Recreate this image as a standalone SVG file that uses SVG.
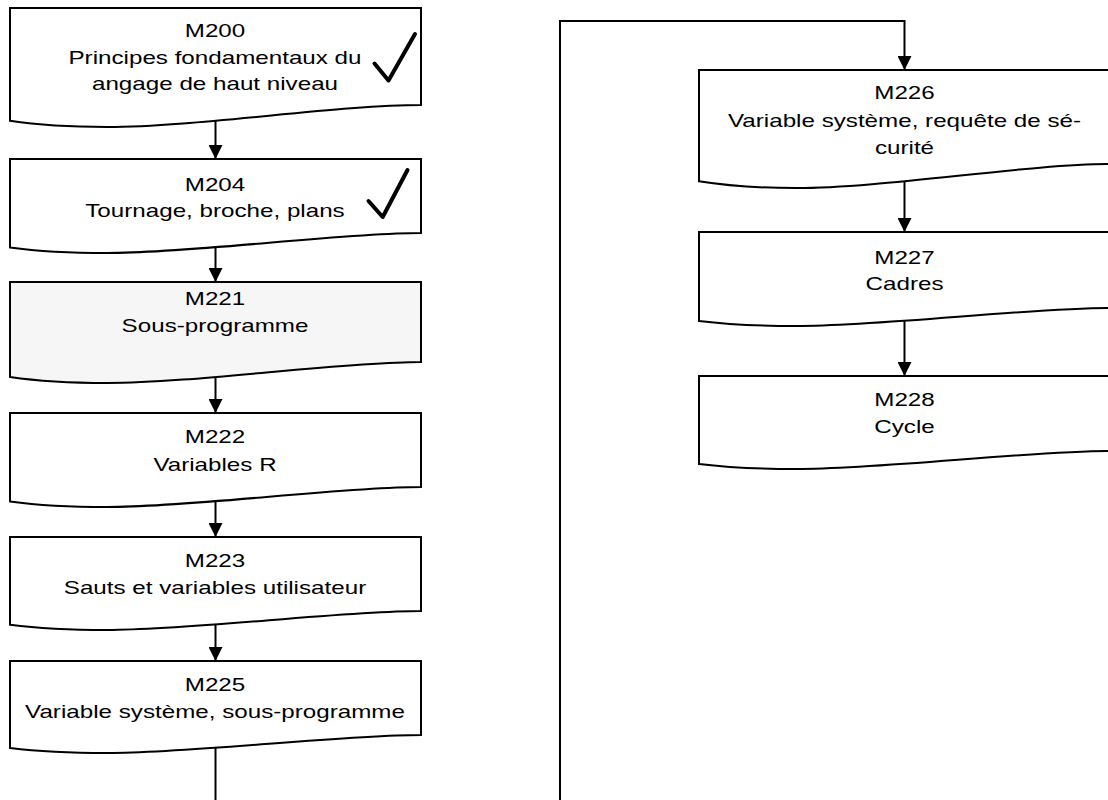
<svg xmlns="http://www.w3.org/2000/svg" width="1108" height="800" viewBox="0 0 1108 800">
  <style>
    .box { fill: #ffffff; stroke: #000000; stroke-width: 2; stroke-linejoin: miter; }
    .box.current { fill: #f6f6f6; }
    .lbl { font-family: "Liberation Sans", Arial, sans-serif; font-size: 19.2px; fill: #000000; text-anchor: middle; }
    .done { fill: none; stroke: #000000; stroke-width: 4; stroke-linecap: round; stroke-linejoin: round; }
    .link { fill: none; stroke: #000000; stroke-width: 2; }
  </style>
  <defs>
    <marker id="arrow" markerUnits="userSpaceOnUse" markerWidth="14" markerHeight="14" refX="14" refY="7" orient="auto">
      <path d="M0,0 L14,7 L0,14 Z" fill="#000000"/>
    </marker>
  </defs>
  <rect width="1108" height="800" fill="#ffffff"/>

  <!-- left column: document shapes, x 10..421, centre 215.5 -->
  <g id="m200">
    <path class="box" d="M10,8 H421 V105 C338.8,105 195,127 107,127 Q51,127 10,120.8 Z"/>
    <g transform="translate(215,0) scale(1.26,1)">
      <text class="lbl" x="0" y="37.5">M200</text>
      <text class="lbl" x="0" y="64">Principes fondamentaux du</text>
      <text class="lbl" x="0" y="90.5">angage de haut niveau</text>
    </g>
    <polyline class="done" points="374.5,63.5 388.5,80.5 415,34"/>
  </g>

  <g id="m204">
    <path class="box" d="M10,159 H421 V233 C338.8,233 195,253 107,253 Q51,253 10,247.4 Z"/>
    <g transform="translate(215,0) scale(1.26,1)">
      <text class="lbl" x="0" y="191">M204</text>
      <text class="lbl" x="0" y="217.5">Tournage, broche, plans</text>
    </g>
    <polyline class="done" points="368.5,201 382.7,217 407.5,170"/>
  </g>

  <g id="m221">
    <path class="box current" d="M10,282 H421 V362 C338.8,362 195,383 107,383 Q51,383 10,377 Z"/>
    <g transform="translate(215,0) scale(1.26,1)">
      <text class="lbl" x="0" y="305">M221</text>
      <text class="lbl" x="0" y="332">Sous-programme</text>
    </g>
  </g>

  <g id="m222">
    <path class="box" d="M10,413 H421 V487 C338.8,487 195,507 107,507 Q51,507 10,501.4 Z"/>
    <g transform="translate(215,0) scale(1.26,1)">
      <text class="lbl" x="0" y="443.5">M222</text>
      <text class="lbl" x="0" y="471">Variables R</text>
    </g>
  </g>

  <g id="m223">
    <path class="box" d="M10,537 H421 V611 C338.8,611 195,630 107,630 Q51,630 10,624.7 Z"/>
    <g transform="translate(215,0) scale(1.26,1)">
      <text class="lbl" x="0" y="567">M223</text>
      <text class="lbl" x="0" y="594.5">Sauts et variables utilisateur</text>
    </g>
  </g>

  <g id="m225">
    <path class="box" d="M10,661 H421 V735 C338.8,735 195,753 107,753 Q51,753 10,748 Z"/>
    <g transform="translate(215,0) scale(1.26,1)">
      <text class="lbl" x="0" y="691">M225</text>
      <text class="lbl" x="0" y="718.5">Variable système, sous-programme</text>
    </g>
  </g>

  <!-- right column: x 699..1110, centre 904.5 -->
  <g id="m226">
    <path class="box" d="M699,70 H1110 V164 C1027.8,164 884,188 796,188 Q740,188 699,181.3 Z"/>
    <g transform="translate(904.5,0) scale(1.26,1)">
      <text class="lbl" x="0" y="99.5">M226</text>
      <text class="lbl" x="0" y="127">Variable système, requête de sé-</text>
      <text class="lbl" x="0" y="154.5">curité</text>
    </g>
  </g>

  <g id="m227">
    <path class="box" d="M699,232 H1110 V308 C1027.8,308 884,326 796,326 Q740,326 699,321 Z"/>
    <g transform="translate(904.5,0) scale(1.26,1)">
      <text class="lbl" x="0" y="264">M227</text>
      <text class="lbl" x="0" y="290.5">Cadres</text>
    </g>
  </g>

  <g id="m228">
    <path class="box" d="M699,376 H1110 V451 C1027.8,451 884,469 796,469 Q740,469 699,464 Z"/>
    <g transform="translate(904.5,0) scale(1.26,1)">
      <text class="lbl" x="0" y="406.5">M228</text>
      <text class="lbl" x="0" y="433.5">Cycle</text>
    </g>
  </g>

  <g id="connectors">
    <path class="link" d="M215.5,120.8 V159" marker-end="url(#arrow)"/>
    <path class="link" d="M215.5,247.3 V282" marker-end="url(#arrow)"/>
    <path class="link" d="M215.5,377 V413" marker-end="url(#arrow)"/>
    <path class="link" d="M215.5,501.3 V537" marker-end="url(#arrow)"/>
    <path class="link" d="M215.5,624.6 V661" marker-end="url(#arrow)"/>
    <!-- column break: M225 runs off the bottom and re-enters on the right -->
    <path class="link" d="M215.5,747.9 V802"/>
    <path class="link" d="M560,802 V21 H904.5 V70" marker-end="url(#arrow)"/>
    <path class="link" d="M904.5,181.2 V232" marker-end="url(#arrow)"/>
    <path class="link" d="M904.5,320.9 V376" marker-end="url(#arrow)"/>
  </g>
</svg>
